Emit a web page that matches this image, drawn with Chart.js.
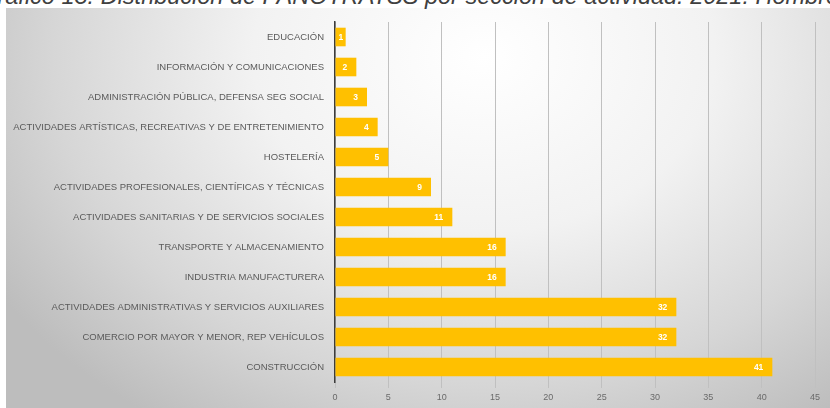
<!DOCTYPE html>
<html lang="es">
<head>
<meta charset="utf-8">
<title>Distribución por sección de actividad</title>
<script src="https://cdn.jsdelivr.net/npm/chart.js@4"></script>
<style>
  html, body {
    margin: 0;
    padding: 0;
    background: #ffffff;
    overflow: hidden;
  }
  #wrap {
    position: relative;
    width: 830px;
    height: 408px;
    overflow: hidden;
  }
  #panel {
    position: absolute;
    left: 6px;
    top: 8px;
    right: 0;
    bottom: 0;
    background: radial-gradient(ellipse 70% 110% at 58% 12%, #ffffff 0%, #f2f2f2 40%, #d6d6d6 75%, #bdbdbd 100%);
  }
  #titulo {
    position: absolute;
    left: -60px;
    width: 950px;
    top: -17px;
    text-align: center;
    white-space: nowrap;
    font: italic 23.5px "Liberation Sans", Arial, sans-serif;
    color: #404040;
  }
  #grafico {
    position: absolute;
    left: 0;
    top: 0;
  }
</style>
</head>
<body>
<div id="wrap">
  <div id="panel"></div>
  <div id="titulo">Gráfico 13. Distribución de PANOTRATSS por sección de actividad. 2021. Hombres</div>
  <canvas id="grafico" width="830" height="408"></canvas>
</div>
<script>
  const secciones = [
    "EDUCACIÓN",
    "INFORMACIÓN Y COMUNICACIONES",
    "ADMINISTRACIÓN PÚBLICA, DEFENSA SEG SOCIAL",
    "ACTIVIDADES ARTÍSTICAS, RECREATIVAS Y DE ENTRETENIMIENTO",
    "HOSTELERÍA",
    "ACTIVIDADES PROFESIONALES, CIENTÍFICAS Y TÉCNICAS",
    "ACTIVIDADES SANITARIAS Y DE SERVICIOS SOCIALES",
    "TRANSPORTE Y ALMACENAMIENTO",
    "INDUSTRIA MANUFACTURERA",
    "ACTIVIDADES ADMINISTRATIVAS Y SERVICIOS AUXILIARES",
    "COMERCIO POR MAYOR Y MENOR, REP VEHÍCULOS",
    "CONSTRUCCIÓN",
  ];
  const hombres = [1, 2, 3, 4, 5, 9, 11, 16, 16, 32, 32, 41];
  const ejeMin = 0;
  const ejeMax = 45;
  const ejePaso = 5;

  // valores en blanco dentro de cada barra, junto a su extremo
  const etiquetasBarra = {
    id: "etiquetasBarra",
    afterDatasetsDraw(chart) {
      const ctx = chart.ctx;
      const meta = chart.getDatasetMeta(0);
      ctx.save();
      ctx.font = "bold 8.5px 'Liberation Sans', Arial, sans-serif";
      ctx.fillStyle = "#ffffff";
      ctx.textAlign = "right";
      ctx.textBaseline = "middle";
      meta.data.forEach((bar, i) => {
        const txt = String(hombres[i]);
        const w = ctx.measureText(txt).width;
        const x = Math.max(bar.x - 9, bar.base + w + 3);
        ctx.fillText(txt, x, bar.y + 0.5);
      });
      ctx.restore();
    },
  };

  const fuenteEje = { family: "'Liberation Sans', Arial, sans-serif", size: 9 };

  new Chart(document.getElementById("grafico"), {
    type: "bar",
    data: {
      labels: secciones,
      datasets: [
        {
          data: hombres,
          backgroundColor: "#ffc000",
          borderWidth: 0,
          barPercentage: 0.62,
          categoryPercentage: 1,
        },
      ],
    },
    options: {
      indexAxis: "y",
      responsive: false,
      animation: false,
      layout: { padding: { top: 22, right: 15, left: 0, bottom: 0 } },
      plugins: {
        legend: { display: false },
        tooltip: { enabled: false },
      },
      scales: {
        x: {
          min: ejeMin,
          max: ejeMax,
          ticks: {
            stepSize: ejePaso,
            color: "#6a6a6a",
            font: fuenteEje,
            padding: 4,
          },
          grid: {
            color: "#c0c0c0",
            lineWidth: 1,
            tickLength: 6,
          },
          border: { display: false },
          afterFit(scale) {
            scale.height = 26;
          },
        },
        y: {
          ticks: {
            color: "#5a5a5a",
            font: { family: "'Liberation Sans', Arial, sans-serif", size: 9.5 },
            padding: 11,
            autoSkip: false,
          },
          grid: { display: false, drawTicks: false },
          border: { display: true, color: "#3c3c3c", width: 1.5 },
          afterFit(scale) {
            scale.width = 335;
          },
        },
      },
    },
    plugins: [etiquetasBarra],
  });
</script>
</body>
</html>
